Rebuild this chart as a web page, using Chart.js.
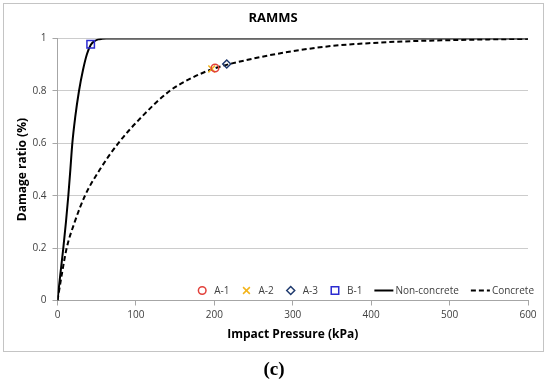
<!DOCTYPE html>
<html><head><meta charset="utf-8">
<script src="https://cdn.jsdelivr.net/npm/chart.js"></script>
<style>
html,body{margin:0;padding:0;background:#fff;}
#wrap{position:relative;width:550px;height:379px;overflow:hidden;background:#fff;}
#c{position:absolute;left:0;top:0;}
#frame{position:absolute;left:3px;top:3px;width:541px;height:349px;box-sizing:border-box;border:1px solid #c4c4c4;pointer-events:none;}
#cap{position:absolute;left:0;width:548px;top:357px;text-align:center;font:bold 19px "Liberation Serif";color:#000;line-height:24px;}
</style></head>
<body><div id="wrap"><canvas id="c" width="550" height="379"></canvas><div id="frame"></div><div id="cap">(c)</div></div>
<script>
// ---- data ----
const chartTitle = 'RAMMS';
const xTitle = 'Impact Pressure (kPa)';
const yTitle = 'Damage ratio (%)';
const xTicks = [0, 100, 200, 300, 400, 500, 600];
const xTickLabels = ['0', '100', '200', '300', '400', '500', '600'];
const yTicks = [0, 0.2, 0.4, 0.6, 0.8, 1];
const yTickLabels = ['0', '0.2', '0.4', '0.6', '0.8', '1'];

// Non-concrete curve (solid)
const ncP = [0, 3.6, 7.4, 10.8, 13.8, 16.4, 18.9, 22.6, 27.4, 32.5, 37.5, 42.3, 47, 52, 57, 62, 600];
const ncD = [0, 0.1, 0.2, 0.3, 0.4, 0.5, 0.6, 0.7, 0.8, 0.88, 0.94, 0.976, 0.99, 0.997, 0.999, 1, 1];
// Concrete curve (dashed)
const cP = [0, 5.5, 11.7, 22, 35, 54, 77.4, 107, 143, 170, 200, 250, 300, 350, 400, 450, 500, 550, 600];
const cD = [0, 0.1, 0.2, 0.3, 0.4, 0.5, 0.6, 0.7, 0.8, 0.848, 0.886, 0.924, 0.952, 0.972, 0.983, 0.99, 0.994, 0.997, 0.999];
// Observed points
const a1P = [200.9], a1D = [0.888];
const a2P = [196.7], a2D = [0.884];
const a3P = [215.8], a3D = [0.903];
const b1P = [42.3],  b1D = [0.978];

const pts = (xs, ys) => xs.map((x, i) => ({x: x, y: ys[i]}));
const FONT = 'Open Sans';

function drawSym(ctx, ds, cx, cy) {
  ctx.save();
  ctx.strokeStyle = ds.borderColor;
  ctx.lineWidth = ds.borderWidth;
  const r = ds.pointRadius;
  ctx.beginPath();
  if (ds.pointStyle === 'circle') {
    ctx.arc(cx, cy, r, 0, Math.PI * 2);
  } else if (ds.pointStyle === 'crossRot') {
    const o = r * Math.SQRT1_2;
    ctx.moveTo(cx - o, cy - o); ctx.lineTo(cx + o, cy + o);
    ctx.moveTo(cx - o, cy + o); ctx.lineTo(cx + o, cy - o);
  } else if (ds.pointStyle === 'rectRot') {
    ctx.moveTo(cx - r, cy); ctx.lineTo(cx, cy - r); ctx.lineTo(cx + r, cy); ctx.lineTo(cx, cy + r); ctx.closePath();
  } else if (ds.pointStyle === 'rect') {
    const s = r * Math.SQRT1_2;
    ctx.rect(cx - s, cy - s, 2 * s, 2 * s);
  }
  ctx.stroke();
  ctx.restore();
}

const legendPlugin = {
  id: 'inLegend',
  afterDraw(chart) {
    const ctx = chart.ctx;
    const area = chart.chartArea;
    const cy = area.bottom - 10;
    ctx.save();
    ctx.font = '10px "' + FONT + '"';
    const items = chart.data.datasets.map(ds => {
      const symW = ds.showLine ? 19 : 10;
      const g = ds.showLine ? 2 : 7;
      return {ds, symW, g, w: symW + g + ctx.measureText(ds.label).width};
    });
    const gap = 12;
    const total = items.reduce((s, i) => s + i.w, 0) + gap * (items.length - 1);
    let x = area.right + 6 - total;
    ctx.textBaseline = 'middle';
    ctx.textAlign = 'left';
    items.forEach(it => {
      const ds = it.ds;
      if (ds.showLine) {
        ctx.save();
        ctx.strokeStyle = ds.borderColor;
        ctx.lineWidth = ds.borderWidth;
        ctx.setLineDash(ds.borderDash || []);
        ctx.beginPath();
        ctx.moveTo(x, cy); ctx.lineTo(x + it.symW, cy);
        ctx.stroke();
        ctx.restore();
      } else {
        drawSym(ctx, ds, x + it.symW / 2, cy);
      }
      ctx.fillStyle = '#404040';
      ctx.fillText(ds.label, x + it.symW + it.g, cy + 0.5);
      x += it.w + gap;
    });
    ctx.restore();
  }
};

const markerBase = {showLine: false, pointBackgroundColor: 'rgba(0,0,0,0)', backgroundColor: 'rgba(0,0,0,0)'};

new Chart(document.getElementById('c'), {
  type: 'scatter',
  data: {
    datasets: [
      Object.assign({label: 'A-1', data: pts(a1P, a1D), pointStyle: 'circle', pointRadius: 3.8, borderColor: '#e2403a', pointBorderColor: '#e2403a', borderWidth: 1.5, pointBorderWidth: 1.5}, markerBase),
      Object.assign({label: 'A-2', data: pts(a2P, a2D), pointStyle: 'crossRot', pointRadius: 4.8, borderColor: '#f3b41a', pointBorderColor: '#f3b41a', borderWidth: 1.5, pointBorderWidth: 1.5}, markerBase),
      Object.assign({label: 'A-3', data: pts(a3P, a3D), pointStyle: 'rectRot', pointRadius: 4, borderColor: '#1f3a6e', pointBorderColor: '#1f3a6e', borderWidth: 1.5, pointBorderWidth: 1.5}, markerBase),
      Object.assign({label: 'B-1', data: pts(b1P, b1D), pointStyle: 'rect', pointRadius: 5.3, borderColor: '#2b2bd0', pointBorderColor: '#2b2bd0', borderWidth: 1.5, pointBorderWidth: 1.5}, markerBase),
      {label: 'Non-concrete', data: pts(ncP, ncD), showLine: true, borderColor: '#000', borderWidth: 2, pointRadius: 0, cubicInterpolationMode: 'monotone', fill: false},
      {label: 'Concrete', data: pts(cP, cD), showLine: true, borderColor: '#000', borderWidth: 2, borderDash: [5, 3], pointRadius: 0, cubicInterpolationMode: 'monotone', fill: false}
    ]
  },
  options: {
    responsive: false,
    animation: false,
    events: [],
    layout: {padding: {left: 4, right: 8, top: 0, bottom: 27.3}},
    plugins: {
      legend: {display: false},
      tooltip: {enabled: false},
      title: {display: true, text: chartTitle, color: '#000', font: {family: FONT, size: 13, weight: 'bold'}, padding: {top: 10, bottom: 13}}
    },
    scales: {
      x: {
        type: 'linear', min: 0, max: 600,
        afterBuildTicks: s => { s.ticks = xTicks.map(v => ({value: v})); },
        afterFit: s => { s.height = 51.2; },
        grid: {drawOnChartArea: false, drawTicks: true, tickLength: 5, tickColor: '#a6a6a6'},
        border: {color: '#a6a6a6', width: 1},
        ticks: {font: {family: FONT, size: 10}, color: '#404040', padding: 4, maxRotation: 0, autoSkip: false,
                callback: (v, i) => xTickLabels[i]},
        title: {display: true, text: xTitle, color: '#000', font: {family: FONT, size: 12, weight: 'bold'}, padding: {top: 0, bottom: 10}}
      },
      y: {
        type: 'linear', min: 0, max: 1,
        afterBuildTicks: s => { s.ticks = yTicks.map(v => ({value: v})); },
        afterFit: s => { s.width = 53.5; },
        grid: {color: '#cccccc', drawTicks: true, tickLength: 5, tickColor: '#a6a6a6'},
        border: {color: '#a6a6a6', width: 1},
        ticks: {font: {family: FONT, size: 10}, color: '#404040', padding: 6, autoSkip: false,
                callback: (v, i) => yTickLabels[i]},
        title: {display: true, text: yTitle, color: '#000', font: {family: FONT, size: 12, weight: 'bold'}, padding: {top: 11, bottom: 0}}
      },
      y2: {
        type: 'linear', position: 'right', min: 0, max: 1,
        grid: {display: false}, ticks: {display: false}, border: {display: false},
        afterFit: s => { s.width = 14; }
      }
    }
  },
  plugins: [legendPlugin]
});
</script>
</body></html>
